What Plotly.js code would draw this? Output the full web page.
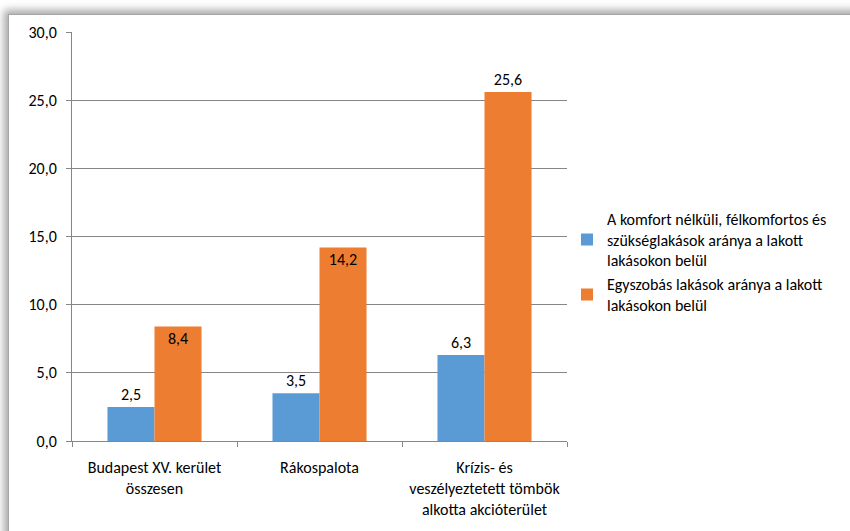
<!DOCTYPE html>
<html>
<head>
<meta charset="utf-8">
<script src="https://cdn.plot.ly/plotly-3.0.1.min.js"></script>
<style>
  body { margin: 0; background: #ffffff; }
  #frame {
    position: absolute; left: 8px; top: 14px; width: 860px; height: 540px;
    background: #ffffff; border: 1px solid #a6a6a6;
    box-shadow: -4px -4px 8px rgba(0,0,0,0.35);
  }
  #chart { position: absolute; left: 0; top: 0; width: 850px; height: 531px; }
</style>
</head>
<body>
<div id="frame"></div>
<div id="chart"></div>
<script>
// Categories and series values
const categories = [
  'Budapest XV. kerület<br>összesen',
  'Rákospalota',
  'Krízis- és<br>veszélyeztetett tömbök<br>alkotta akcióterület'
];
const komfortNelkuli = [2.5, 3.5, 6.3];
const egyszobas = [8.4, 14.2, 25.6];
const seriesNames = [
  'A komfort nélküli, félkomfortos és<br>szükséglakások aránya a lakott<br>lakásokon belül',
  'Egyszobás lakások aránya a lakott<br>lakásokon belül'
];

const fontFamily = 'Carlito, Lato, "Open Sans", sans-serif';

const data = [{
  x: categories,
  y: komfortNelkuli,
  type: 'bar',
  name: seriesNames[0],
  marker: { color: '#5b9bd5' },
  texttemplate: '%{y:.1f}',
  textposition: 'outside',
  textangle: 0,
  constraintext: 'none',
  cliponaxis: false,
  textfont: { color: '#000000', size: 16, family: fontFamily }
}, {
  x: categories,
  y: egyszobas,
  type: 'bar',
  name: seriesNames[1],
  marker: { color: '#ed7d31' },
  texttemplate: '%{y:.1f}',
  textposition: ['inside', 'inside', 'outside'],
  insidetextanchor: 'end',
  textangle: 0,
  constraintext: 'none',
  cliponaxis: false,
  textfont: { color: '#000000', size: 16, family: fontFamily }
}];

const layout = {
  width: 850,
  height: 531,
  paper_bgcolor: 'rgba(0,0,0,0)',
  plot_bgcolor: 'rgba(0,0,0,0)',
  separators: ', ',
  font: { family: fontFamily, size: 16, color: '#000000' },
  margin: { l: 72, r: 283, t: 32, b: 90 },
  barmode: 'group',
  bargap: 0.43,
  bargroupgap: 0,
  showlegend: true,
  legend: {
    x: 1.0, y: 0.585, xanchor: 'left', yanchor: 'top',
    font: { size: 16, family: fontFamily },
    tracegroupgap: 12,
    itemwidth: 30
  },
  xaxis: {
    type: 'category',
    showline: true,
    linecolor: '#868686',
    ticks: 'outside',
    tickson: 'boundaries',
    ticklen: 5,
    tickcolor: '#868686',
    showgrid: false,
    tickangle: 0,
    automargin: false,
    ticklabelstandoff: 12,
    tickfont: { size: 16 }
  },
  yaxis: {
    range: [0, 30],
    dtick: 5,
    tickformat: '.1f',
    showline: true,
    linecolor: '#868686',
    ticks: 'outside',
    ticklen: 5,
    tickcolor: '#868686',
    gridcolor: '#868686',
    zeroline: false,
    automargin: false,
    ticklabelstandoff: 6,
    tickfont: { size: 16 }
  }
};

Plotly.newPlot('chart', data, layout, { displayModeBar: false, staticPlot: true });
</script>
</body>
</html>
